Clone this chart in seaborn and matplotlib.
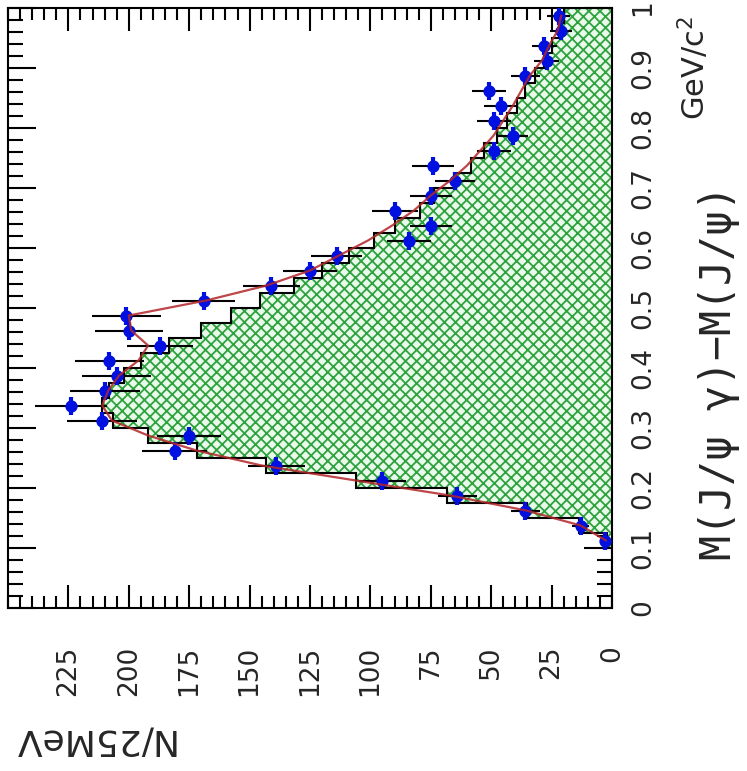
import numpy as np
import matplotlib
matplotlib.use("Agg")
import matplotlib.pyplot as plt
import seaborn as sns
from matplotlib.ticker import FixedLocator, FixedFormatter, MultipleLocator

# ---------------- data ----------------
# MC histogram, 40 bins of 25 MeV from 0 to 1 GeV/c^2
bin_edges = np.round(np.arange(41) * 0.025, 4)
mc_counts = [0, 0, 0, 0,
             2, 13.6, 35, 68.5, 106, 143.4, 171.6, 192, 206.7, 211,
             208, 202, 195, 183.5, 170, 157.5, 145.5, 131.7, 120, 109,
             98.6, 90, 79.3, 73.5, 65.6, 58.5, 53, 47.7, 43.5, 39.5,
             36, 32, 28, 25, 22, 20]

# data points (bin centres)
data_mass = [0.1125, 0.1375, 0.1625, 0.1875, 0.2125, 0.2375, 0.2625, 0.2875,
             0.3125, 0.3375, 0.3625, 0.3875, 0.4125, 0.4375, 0.4625, 0.4875,
             0.5125, 0.5375, 0.5625, 0.5875, 0.6125, 0.6375, 0.6625, 0.6875,
             0.7125, 0.7375, 0.7625, 0.7875, 0.8125, 0.8375, 0.8625, 0.8875,
             0.9125, 0.9375, 0.9625, 0.9875]
data_counts = [3, 13, 36, 64, 95, 139, 181, 175,
               211, 224, 210, 205, 208, 187, 200, 201,
               169, 141, 125, 114, 84, 75, 90, 75,
               65, 74, 49, 41, 49, 46, 51, 36,
               27, 28, 21, 22]
data_err = [2, 3.5, 6, 8, 9.7, 11.8, 13.4, 13.2,
            14.5, 15, 14.5, 14.3, 14.4, 13.7, 14.1, 14.2,
            13, 11.9, 11.2, 10.7, 9.2, 8.7, 9.5, 8.7,
            8.1, 8.6, 7, 6.4, 7, 6.8, 7.1, 6,
            5.2, 5.3, 4.6, 4.7]

# red curve at bin centres
fit_counts = [2.5, 13, 35.5, 67, 106, 145, 172, 192,
              207, 211, 208.5, 204, 196, 192, 199, 200,
              168, 143, 125, 113, 101, 91, 82, 75,
              67, 60, 54.5, 49, 45, 41, 37.5, 34,
              29, 26, 22.5, 21]

mass_ticks = [0, 0.1, 0.2, 0.3, 0.4, 0.5, 0.6, 0.7, 0.8, 0.9, 1.0]
mass_tick_labels = ["0", "0.1", "0.2", "0.3", "0.4", "0.5", "0.6", "0.7", "0.8", "0.9", "1"]
count_ticks = [0, 25, 50, 75, 100, 125, 150, 175, 200, 225]
count_tick_labels = ["0", "25", "50", "75", "100", "125", "150", "175", "200", "225"]

# ---------------- style ----------------
sns.set_style("ticks")
plt.rcParams["font.family"] = ["DejaVu Sans"]
plt.rcParams["hatch.linewidth"] = 1.3
plt.rcParams["hatch.color"] = "#2ea23e"

W, H = 747, 771
fig = plt.figure(figsize=(W / 100, H / 100), dpi=100)
ax = fig.add_axes([8 / W, 1 - 608 / H, (612 - 8) / W, (608 - 8) / H])

# MC histogram (hatched fill + black outline)
ax.stairs(mc_counts, bin_edges, orientation="horizontal", fill=True,
          facecolor="#eafaea", edgecolor="#2ea23e", hatch="xxx", linewidth=0,
          zorder=1)
ax.stairs(mc_counts, bin_edges, orientation="horizontal", color="black",
          linewidth=1.5, zorder=2)

# data error bars
ax.errorbar(data_counts, data_mass, xerr=data_err, fmt="none", ecolor="black",
            elinewidth=1.5, capsize=0, zorder=3)
# data markers: round body with short vertical tips
sns.scatterplot(x=data_counts, y=data_mass, ax=ax, marker="o", s=78,
                color="#0010e0", edgecolor="#0010e0", linewidth=0, zorder=4)
ax.scatter(data_counts, data_mass, marker="|", s=150, color="#0010e0",
           linewidths=3, zorder=4)

# red curve
sns.lineplot(x=fit_counts, y=data_mass, orient="y", sort=False, estimator=None,
             color="#b3262a", linewidth=1.6, alpha=0.85, ax=ax, zorder=5)

# axes
ax.set_xlim(250, 0)
ax.set_ylim(0, 1)
ax.set_xlabel("")
ax.set_ylabel("")
ax.xaxis.set_major_locator(FixedLocator(count_ticks))
ax.xaxis.set_major_formatter(FixedFormatter(count_tick_labels))
ax.xaxis.set_minor_locator(MultipleLocator(5))
ax.yaxis.set_major_locator(FixedLocator(mass_ticks))
ax.yaxis.set_major_formatter(FixedFormatter(mass_tick_labels))
ax.yaxis.set_minor_locator(MultipleLocator(0.02))

ax.tick_params(axis="x", which="both", direction="in", top=True, bottom=True,
               labeltop=False, labelbottom=True, color="black")
ax.tick_params(axis="y", which="both", direction="in", left=True, right=True,
               labelleft=False, labelright=True, color="black")
ax.tick_params(axis="x", which="major", length=16.5, width=1.5, pad=27,
               labelsize=19, labelrotation=90)
ax.tick_params(axis="x", which="minor", length=8.6, width=1.5)
ax.tick_params(axis="y", which="major", length=20, width=1.5, pad=13,
               labelsize=19, labelrotation=90)
ax.tick_params(axis="y", which="minor", length=11, width=1.5)
for lbl in ax.get_yticklabels():
    lbl.set_va("center")
for sp in ax.spines.values():
    sp.set_visible(True)
    sp.set_linewidth(1.5)
    sp.set_color("black")

# titles
fig.text(719 / W, 1 - 372 / H, "M(J/ψ γ)−M(J/ψ)", rotation=90,
         ha="center", va="center", fontsize=30,
         family=["DejaVu Sans Mono", "DejaVu Sans"])
fig.text(694 / W, 1 - 68 / H, "GeV/c$^{2}$", rotation=90,
         ha="center", va="center", fontsize=22)
fig.text(92 / W, 1 - 740 / H, "N/25MeV", rotation=180,
         ha="center", va="center", fontsize=26)

fig.savefig("out.png", dpi=100)
